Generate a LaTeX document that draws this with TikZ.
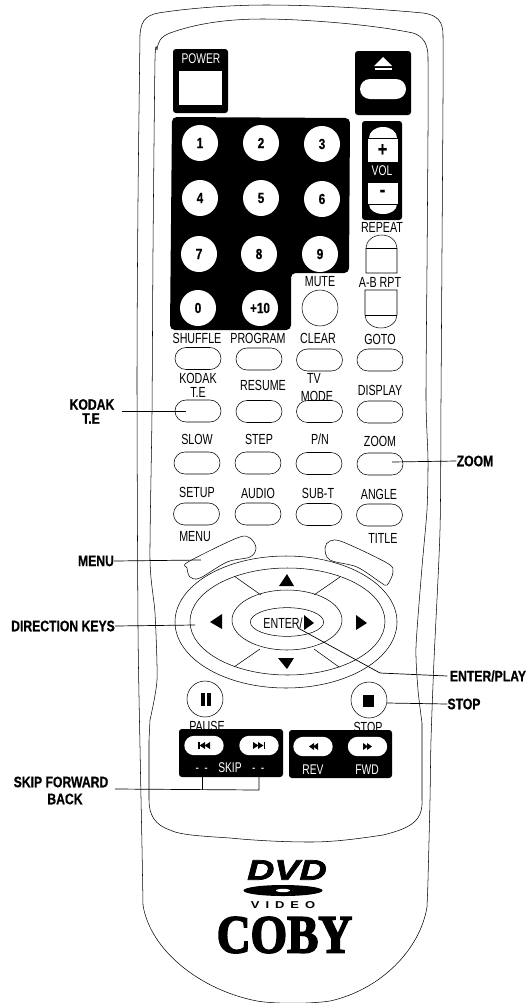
\documentclass[tikz,border=0pt]{standalone}
\usepackage{fontspec}
\setmainfont{Liberation Sans}
\newfontfamily\keyfont[FakeStretch=0.73]{Liberation Sans}
\newfontfamily\calloutfont[FakeStretch=0.8,BoldFeatures={FakeBold=0.6}]{Liberation Sans}
\newfontfamily\dvdfont[FakeStretch=1.34,BoldItalicFeatures={FakeBold=2.5}]{Liberation Sans}
\newfontfamily\videofont[FakeStretch=1.3,LetterSpace=60]{Liberation Sans}
\newfontfamily\brandfont[FakeStretch=0.87,BoldFeatures={FakeBold=3}]{Liberation Serif}
\usetikzlibrary{positioning}
\usetikzlibrary{shapes.misc, shapes.geometric}
\tikzset{
  softkey/.style={draw, rounded rectangle, minimum width=1.38cm, minimum height=0.66cm, inner sep=0pt},
  numkey/.style={circle, fill=white, minimum size=1.08cm, inner sep=0pt, font=\calloutfont\fontsize{12.5}{12.5}\selectfont\bfseries},
  roundkey/.style={circle, draw, minimum size=1.08cm, inner sep=0pt},
  blackpanel/.style={fill=black, rounded corners=2.5pt},
  whitekey/.style={fill=white, rounded rectangle, minimum width=1.18cm, minimum height=0.58cm, inner sep=0pt},
  volkey/.style={draw, fill=white, minimum width=0.93cm, inner sep=0pt, font=\calloutfont\fontsize{17}{17}\selectfont\bfseries},
  keylabel/.style={inner sep=0pt, font=\keyfont\fontsize{12.5}{12.5}\selectfont},
  panellabel/.style={inner sep=0pt, text=white, font=\keyfont\fontsize{12}{12}\selectfont},
  callout/.style={inner sep=0pt, font=\calloutfont\fontsize{13}{13}\selectfont\bfseries},
  leader/.style={line width=0.6pt},
  outline/.style={line width=0.45pt},
}
\begin{document}
\begin{tikzpicture}[x=0.03cm, y=-0.03cm, outline]
\useasboundingbox (0, 0) rectangle (529, 1003);
% body
\draw plot[smooth, tension=0.45] coordinates {(143, 905) (142, 847) (140, 747) (138, 627) (137, 380) (138, 200) (140, 35)};
\draw (140, 35) .. controls (141, 18) and (148, 14) .. (165, 12) .. controls (200, 7) and (240, 5) .. (265, 5) .. controls (320, 5) and (380, 9) .. (423, 13) .. controls (438, 15) and (443, 22) .. (443, 35);
\draw plot[smooth, tension=0.45] coordinates {(443, 35) (443, 100) (442, 250) (441, 400) (440, 530) (434, 660) (431, 740) (430, 800) (428, 880) (427, 907)};
\draw (143, 905) .. controls (150, 950) and (200, 990) .. (257, 1001) .. controls (275, 1004) and (310, 1004) .. (330, 1001) .. controls (380, 990) and (420, 950) .. (427, 907);
% inner panel
\draw (157, 50) .. controls (158, 42) and (160, 37) .. (170, 33) .. controls (195, 24) and (225, 19) .. (263, 19) .. controls (300, 19) and (370, 24) .. (413, 33) .. controls (423, 36) and (428, 44) .. (428, 57);
\draw plot[smooth, tension=0.4] coordinates {(428, 57) (428, 133) (427, 267) (426, 400) (428, 460) (427, 510) (422, 567) (416, 647) (418, 690) (422, 723)};
\draw (422, 723) -- (422, 800) .. controls (423, 820) and (412, 828) .. (383, 835) .. controls (350, 840) and (330, 842) .. (310, 842) .. controls (280, 842) and (250, 840) .. (230, 838) .. controls (200, 836) and (180, 835) .. (170, 830) .. controls (155, 825) and (149, 815) .. (149, 800) -- (149, 740) -- (150, 720);
\draw plot[smooth, tension=0.4] coordinates {(150, 720) (157, 680) (155, 613) (150, 560) (152, 413) (153, 250) (155, 60) (157, 50)};
% top keys
\fill[blackpanel] (173, 49) rectangle (228, 113);
\fill[white] (179, 71) rectangle (222, 105);
\node[panellabel] (PowerLabel) at (201, 59) {POWER};
\fill[blackpanel] (355, 51) rectangle (411, 115);
\fill[white] (383, 57) -- (392, 66) -- (374, 66) -- cycle;
\fill[white] (375, 68) rectangle (392, 70);
\node[fill=white, rounded rectangle, minimum width=1.38cm, minimum height=0.6cm, inner sep=0pt] (EjectKey) at (383, 89) {};
% number keys
\fill[black, rounded corners=4pt] (172, 117) -- (350, 118) -- (349, 273) -- (291, 273) -- (291, 330) -- (170, 330) -- cycle;
\node[numkey] (N1) at (200, 143) {1};
\node[numkey] (N2) at (261, 143) {2};
\node[numkey] (N3) at (322, 144) {3};
\node[numkey] (N4) at (200, 198) {4};
\node[numkey] (N5) at (261, 198) {5};
\node[numkey] (N6) at (322, 199) {6};
\node[numkey] (N7) at (199, 254) {7};
\node[numkey] (N8) at (259, 254) {8};
\node[numkey] (N9) at (320, 254) {9};
\node[numkey] (N0) at (198, 308) {0};
\node[numkey] (N10) at (260, 308) {+10};
% volume
\fill[blackpanel] (362, 121) rectangle (402, 220);
\fill[white] (369, 138) .. controls (369, 132) and (375, 127) .. (383, 127) .. controls (391, 127) and (397, 132) .. (397, 138) -- cycle;
\fill[white] (369, 204) .. controls (369, 210) and (375, 214) .. (383, 214) .. controls (391, 214) and (397, 210) .. (397, 204) -- cycle;
\node[volkey, minimum height=0.72cm] (VolUp) at (382.5, 150) {+};
\node[volkey, minimum height=0.66cm] (VolDown) at (382.5, 193) {-};
\node[panellabel] (VolLabel) at (382, 171) {VOL};
% repeat and a-b
\node[keylabel] (RepeatLabel) at (382, 227) {REPEAT};
\draw (366, 248) .. controls (366, 241) and (373, 235) .. (382, 235) .. controls (390, 235) and (397, 241) .. (397, 248) -- (397, 273) -- (366, 273) -- cycle;
\draw (366, 248) -- (397, 248);
\node[keylabel] (ABLabel) at (380, 282) {A-B RPT};
\draw (365, 290) -- (397, 290) -- (397, 315) .. controls (397, 322) and (390, 328) .. (381, 328) .. controls (372, 328) and (365, 322) .. (365, 315) -- cycle;
\draw (365, 315) -- (397, 315);
\node[keylabel] (MuteLabel) at (320, 282) {MUTE};
\node[roundkey] (MuteKey) at (320, 308) {};
% soft keys
\node[keylabel] (ShuffleLabel) at (197, 338) {SHUFFLE};
\node[keylabel] (ProgramLabel) at (258, 338) {PROGRAM};
\node[keylabel] (ClearLabel) at (318, 338) {CLEAR};
\node[keylabel] (GotoLabel) at (380, 339) {GOTO};
\node[softkey] (K11) at (198, 358.5) {};
\node[softkey] (K12) at (259, 359) {};
\node[softkey] (K13) at (319.5, 360) {};
\node[softkey] (K14) at (380, 360) {};
\node[keylabel] (KodakLabel) at (198, 378) {KODAK};
\node[keylabel] (TeLabel) at (198, 392) {T.E};
\node[keylabel] (ResumeLabel) at (263, 385) {RESUME};
\node[keylabel] (TvLabel) at (314, 378) {TV};
\node[keylabel] (ModeLabel) at (317, 396) {MODE};
\node[keylabel] (DisplayLabel) at (380, 390) {DISPLAY};
\node[softkey] (K21) at (198, 411) {};
\node[softkey] (K22) at (259, 411.5) {};
\node[softkey] (K23) at (319.5, 411.5) {};
\node[softkey] (K24) at (380, 412) {};
\node[keylabel] (SlowLabel) at (197, 439) {SLOW};
\node[keylabel] (StepLabel) at (259, 439) {STEP};
\node[keylabel] (PnLabel) at (320, 439) {P/N};
\node[keylabel] (ZoomLabel) at (380, 441) {ZOOM};
\node[softkey] (K31) at (197, 463) {};
\node[softkey] (K32) at (258, 463) {};
\node[softkey] (K33) at (319, 463.5) {};
\node[softkey] (K34) at (380, 464) {};
\node[keylabel] (SetupLabel) at (197, 492) {SETUP};
\node[keylabel] (AudioLabel) at (258, 493) {AUDIO};
\node[keylabel] (SubtLabel) at (318, 493) {SUB-T};
\node[keylabel] (AngleLabel) at (379, 494) {ANGLE};
\node[softkey] (K41) at (196.5, 514) {};
\node[softkey] (K42) at (258, 514) {};
\node[softkey] (K43) at (319, 514.5) {};
\node[softkey] (K44) at (379.5, 515) {};
% menu and title
\node[keylabel] (MenuLabel) at (195, 537) {MENU};
\node[keylabel] (TitleLabel) at (383, 538) {TITLE};
\draw plot[smooth cycle, tension=0.55] coordinates {(188, 562) (237, 538) (250, 538) (256, 548) (250, 557) (227, 562) (200, 578) (190, 577) (187, 568)};
\draw plot[smooth cycle, tension=0.55] coordinates {(325, 548) (330, 541) (343, 542) (387, 563) (393, 572) (387, 585) (380, 582) (357, 567) (330, 560)};
% direction pad
\node[draw, ellipse, minimum width=6.66cm, minimum height=3.96cm, inner sep=0pt] (PadOuter) at (286, 622) {};
\node[draw, ellipse, minimum width=5.85cm, minimum height=3.21cm, inner sep=0pt] (PadMid) at (287.5, 621.5) {};
\node[draw, ellipse, minimum width=3.3cm, minimum height=1.8cm, inner sep=0pt] (PadInner) at (287, 620) {};
\node[draw, ellipse, minimum width=2.2cm, minimum height=0.86cm, inner sep=0pt] (EnterKey) at (287, 622) {};
\draw (234, 576) -- (261, 595);
\draw (340, 577) -- (314, 595);
\draw (260, 649) -- (234, 667);
\draw (314, 649) -- (339, 667);
\fill (287, 574) -- (294, 586) -- (279, 586) -- cycle;
\fill (287, 669) -- (294, 658) -- (278, 658) -- cycle;
\fill (210, 622) -- (222, 614) -- (222, 629) -- cycle;
\fill (367, 623) -- (356, 615) -- (356, 630) -- cycle;
\fill (314, 623) -- (304, 615) -- (304, 630) -- cycle;
\node[keylabel] (EnterLabel) at (283, 623) {ENTER/};
% pause and stop
\node[roundkey] (PauseKey) at (205, 699) {};
\fill (201, 693) rectangle (205, 706);
\fill (207, 693) rectangle (211, 706);
\node[keylabel] (PauseLabel) at (207, 726) {PAUSE};
\node[roundkey] (StopKey) at (369, 700) {};
\fill (363, 695) rectangle (374, 707);
\node[keylabel] (StopLabel) at (368, 727) {STOP};
% skip and scan
\fill[blackpanel] (179, 729) rectangle (283, 777);
\fill[blackpanel] (289, 730) rectangle (392, 778);
\node[whitekey] (SkipBack) at (204, 745.5) {};
\node[whitekey] (SkipNext) at (259, 745.5) {};
\node[whitekey] (RevKey) at (313, 746.5) {};
\node[whitekey] (FwdKey) at (367.5, 746.5) {};
\fill (198, 742) rectangle (199.5, 749);
\fill (199.5, 745.5) -- (205, 742) -- (205, 749) -- cycle;
\fill (204.5, 745.5) -- (210, 742) -- (210, 749) -- cycle;
\fill (265, 742) rectangle (263.5, 749);
\fill (263.5, 745.5) -- (258, 742) -- (258, 749) -- cycle;
\fill (258.5, 745.5) -- (253, 742) -- (253, 749) -- cycle;
\fill (309, 746.5) -- (314, 743) -- (314, 750) -- cycle;
\fill (313, 746.5) -- (318, 743) -- (318, 750) -- cycle;
\fill (372, 746.5) -- (367, 743) -- (367, 750) -- cycle;
\fill (368, 746.5) -- (363, 743) -- (363, 750) -- cycle;
\node[panellabel] (SkipLabel) at (230, 768) {-\hspace{4.5pt}-\hspace{9pt}SKIP\hspace{9pt}-\hspace{4.5pt}-};
\node[panellabel] (RevLabel) at (313, 770) {REV};
\node[panellabel] (FwdLabel) at (367, 770) {FWD};
% logo
\node[inner sep=0pt, font=\dvdfont\fontsize{24}{24}\selectfont\bfseries\itshape] (DvdMark) at (287, 870) {DVD};
\node[ellipse, fill=black, minimum width=2.37cm, minimum height=0.33cm, inner sep=0pt] (DvdDisc) at (283, 890.5) {};
\node[ellipse, fill=white, minimum width=0.42cm, minimum height=0.1cm, inner sep=0pt] (DvdHole) at (283, 890.5) {};
\node[inner sep=0pt, font=\videofont\fontsize{8.5}{8.5}\selectfont\bfseries] (VideoMark) at (283, 905) {VIDEO};
\node[inner sep=0pt, font=\brandfont\fontsize{46}{46}\selectfont\bfseries] (BrandMark) at (284.5, 935) {COBY};
% callouts
\node[callout] (CallKodak) at (92, 404.5) {KODAK};
\node[callout] (CallTe) at (91, 418.5) {T.E};
\node[callout] (CallMenu) at (96, 561) {MENU};
\node[callout] (CallDirection) at (63, 626) {DIRECTION KEYS};
\node[callout] (CallSkip) at (61, 782) {SKIP FORWARD};
\node[callout] (CallBack) at (65, 799) {BACK};
\node[callout] (CallZoom) at (475, 461) {ZOOM};
\node[callout] (CallEnter) at (488, 676) {ENTER/PLAY};
\node[callout] (CallStop) at (464, 704) {STOP};
\coordinate (TipKodak) at (186, 411);
\coordinate (TipMenu) at (201, 560);
\coordinate (TipDirection) at (195, 625);
\coordinate (TipZoom) at (392, 462);
\coordinate (TipEnter) at (298, 628);
\coordinate (BendEnter) at (380, 673);
\coordinate (TipStop) at (387, 703);
\coordinate (BendSkipA) at (202, 790);
\coordinate (BendSkipB) at (259, 790);
\coordinate (TipSkipA) at (202, 777);
\coordinate (TipSkipB) at (259, 777);
\coordinate (StartKodak) at (122, 411);
\coordinate (StartSkip) at (115, 789);
\draw[leader] (StartKodak) -- (TipKodak);
\draw[leader] (CallMenu.east) -- (TipMenu);
\draw[leader] (CallDirection.east) -- (TipDirection);
\draw[leader] (TipZoom) -- (CallZoom.west);
\draw[leader] (TipEnter) -- (BendEnter) -- ([xshift=-2pt]CallEnter.west);
\draw[leader] (TipStop) -- (CallStop.west);
\draw[leader] (StartSkip) -- (BendSkipB) -- (TipSkipB);
\draw[leader] (BendSkipA) -- (TipSkipA);
\end{tikzpicture}
\end{document}
